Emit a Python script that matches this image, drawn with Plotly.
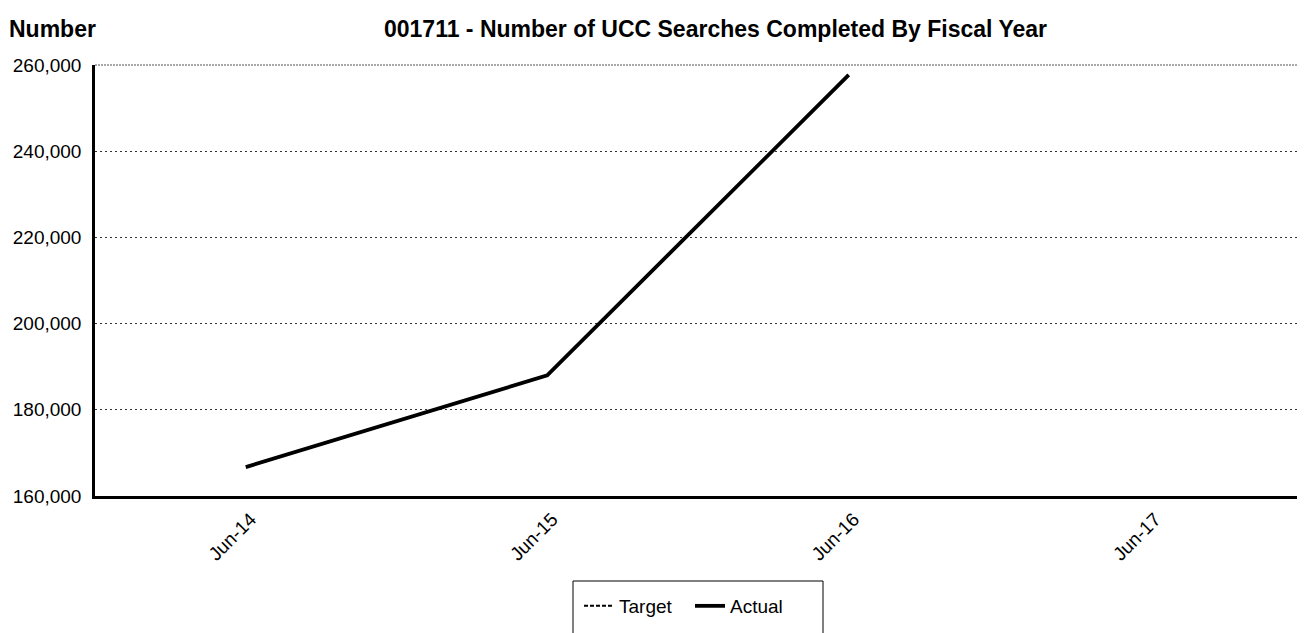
import plotly.graph_objects as go

categories = ["Jun-14", "Jun-15", "Jun-16", "Jun-17"]
actual = [166700, 188000, 257700, None]
target = [None, None, None, None]
y_ticks = [160000, 180000, 200000, 220000, 240000, 260000]

FONT = "Liberation Sans, Arial, sans-serif"

# page is offset by the browser's 8px body margin; plot area in figure px
L, T, R, B = 87, 57, 1293, 488
W, H = R - L, B - T


def px(x):
    return (x - L) / W


def py(y):
    return (B - y) / H


fig = go.Figure()
fig.add_trace(go.Scatter(
    x=categories, y=target, name="Target", mode="lines",
    line=dict(color="black", width=2, dash="4px,2px"),
))
fig.add_trace(go.Scatter(
    x=categories, y=actual, name="Actual", mode="lines",
    line=dict(color="black", width=3.8),
))

fig.update_layout(
    width=1305, height=633,
    margin=dict(l=L, r=1305 - R, t=T, b=633 - B),
    paper_bgcolor="white", plot_bgcolor="white",
    font=dict(family=FONT, size=19, color="black"),
    showlegend=True,
    legend=dict(
        orientation="h", x=px(571), xanchor="left",
        y=py(598), yanchor="middle",
        bgcolor="rgba(0,0,0,0)", borderwidth=0,
        font=dict(family=FONT, size=19, color="black"),
        itemwidth=30, entrywidth=66, entrywidthmode="pixels",
    ),
    annotations=[
        dict(text="<b>001711 - Number of UCC Searches Completed By Fiscal Year</b>",
             xref="paper", yref="paper", x=px(707), y=py(21),
             xanchor="center", yanchor="middle", showarrow=False,
             font=dict(family=FONT, size=23, color="black")),
        dict(text="<b>Number</b>",
             xref="paper", yref="paper", x=px(-1), y=py(21),
             xanchor="left", yanchor="middle", showarrow=False,
             font=dict(family=FONT, size=23, color="black")),
    ],
    shapes=[
        dict(type="line", xref="paper", yref="paper", x0=1, x1=1, y0=0, y1=1,
             line=dict(color="#888888", width=1)),
        dict(type="line", xref="paper", yref="paper", x0=0, x1=1, y0=1, y1=1,
             line=dict(color="#555555", width=1.2, dash="2px,1px")),
        dict(type="rect", xref="paper", yref="paper",
             x0=px(565), x1=px(815), y0=py(660), y1=py(573),
             line=dict(color="black", width=1), fillcolor="rgba(0,0,0,0)"),
    ],
)

fig.update_xaxes(
    type="category", categoryorder="array", categoryarray=categories,
    range=[-0.5, 3.5], showgrid=False,
    showline=True, linecolor="black", linewidth=2.5,
    tickangle=-45, ticks="", ticklabelstandoff=2, ticklabelshift=5,
    tickfont=dict(family=FONT, size=19, color="black"),
    zeroline=False, automargin=False,
)
fig.update_yaxes(
    range=[160000, 260000], tickvals=y_ticks, tickformat=",",
    showgrid=True, gridcolor="#333333", gridwidth=1, griddash="2px,3px",
    showline=True, linecolor="black", linewidth=2.5,
    ticks="", ticklabelstandoff=7,
    tickfont=dict(family=FONT, size=19, color="black"),
    zeroline=False, automargin=False,
)

fig.write_html("out.html")
